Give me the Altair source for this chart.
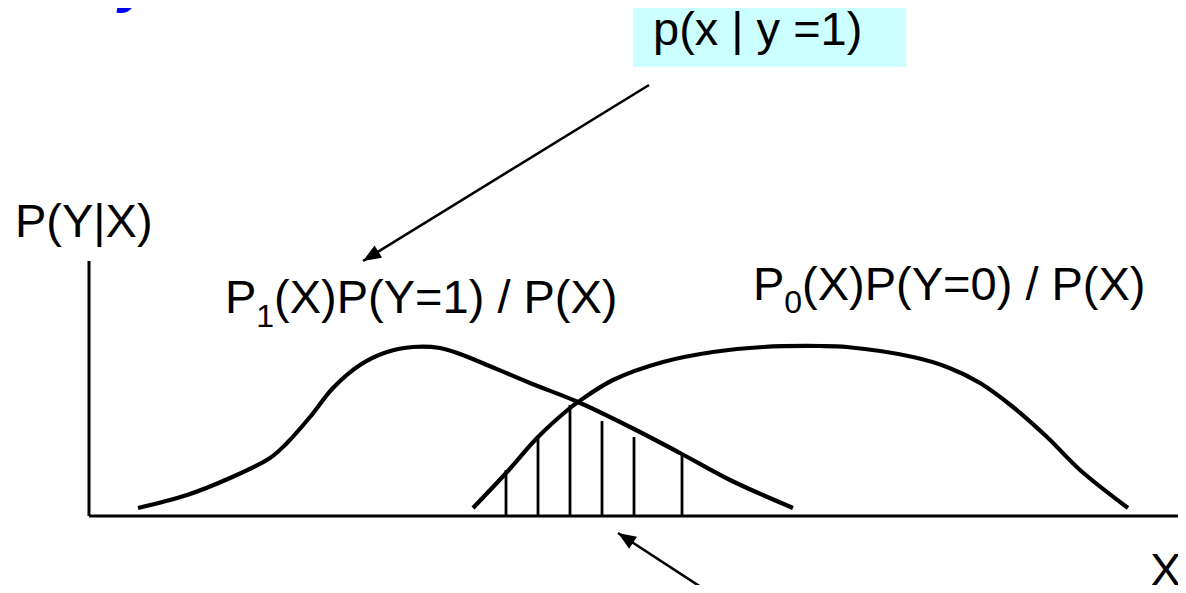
import altair as alt
import pandas as pd

# ---- data (x in page-like units, h = height above the X axis baseline) ----
c1_x = [138, 187, 230, 270, 287, 310, 333, 360, 387, 413, 440, 460, 480, 530, 578, 630, 680, 730, 793]
c1_h = [8, 21, 38, 58, 73, 99, 128, 151, 164, 169, 168, 162, 154, 133, 114, 89, 63, 36, 8]

c0_x = [473, 507, 538, 570, 578, 613, 663, 713, 763, 820, 847, 913, 947, 980, 1013, 1047, 1080, 1128]
c0_h = [8, 44, 79, 108, 114, 136, 154, 164, 169, 170, 169, 159, 149, 133, 109, 79, 46, 8]

hatch_x = [506, 538, 570, 602, 634, 682]
hatch_h = [46, 78, 111, 95, 79, 62]

axis_x0, axis_x1, axis_top = 89, 1178, 255

arrow_x1 = [649, 710]
arrow_h1 = [431, -77]
arrow_x2 = [363, 618]
arrow_h2 = [255, -17]
arrow_angle = [238.4, 303.1]

main_text = ["P(Y|X)", "p(x | y =1)", "P", "(X)P(Y=1) / P(X)", "P", "(X)P(Y=0) / P(X)", "X"]
main_x = [15, 653, 225, 274.1, 753, 802.1, 1150]
main_h = [279, 471, 203, 203, 216, 216, -70]

sub_text = ["1", "0"]
sub_x = [256.3, 784.3]
sub_h = [189, 203]

box_x = [633]
box_x2 = [906]
box_h = [520]
box_h2 = [449]

title_text = ["y"]
title_x = [119]
title_h = [516]

FONT = "Liberation Sans"
xs = alt.Scale(domain=[8, 1178], nice=False, zero=False)
ys = alt.Scale(domain=[-69, 508], nice=False, zero=False)
X = lambda f="x": alt.X(f"{f}:Q", scale=xs, axis=None)
Y = lambda f="h": alt.Y(f"{f}:Q", scale=ys, axis=None)

box = alt.Chart(pd.DataFrame({"x": box_x, "x2": box_x2, "h": box_h, "h2": box_h2})).mark_rect(
    color="#CCFFFF", clip=False
).encode(x=X(), x2="x2:Q", y=Y(), y2="h2:Q")

axes_df = pd.DataFrame({"x": [axis_x0, axis_x0], "x2": [axis_x0, axis_x1], "h": [axis_top, 0], "h2": [0, 0]})
axes = alt.Chart(axes_df).mark_rule(color="black", strokeWidth=3, clip=False).encode(
    x=X(), x2="x2:Q", y=Y(), y2="h2:Q"
)

c1 = alt.Chart(pd.DataFrame({"x": c1_x, "h": c1_h})).mark_line(
    color="black", strokeWidth=4.2, interpolate="catmull-rom", clip=False
).encode(x=X(), y=Y())
c0 = alt.Chart(pd.DataFrame({"x": c0_x, "h": c0_h})).mark_line(
    color="black", strokeWidth=4.2, interpolate="catmull-rom", clip=False
).encode(x=X(), y=Y())

hatch = alt.Chart(pd.DataFrame({"x": hatch_x, "h": hatch_h, "h2": [0] * len(hatch_x)})).mark_rule(
    color="black", strokeWidth=2.8, clip=False
).encode(x=X(), y=Y(), y2="h2:Q")

arr_df = pd.DataFrame({"x": arrow_x1, "h": arrow_h1, "x2": arrow_x2, "h2": arrow_h2, "a": arrow_angle})
arr_lines = alt.Chart(arr_df).mark_rule(color="black", strokeWidth=2.6, clip=False).encode(
    x=X(), y=Y(), x2="x2:Q", y2="h2:Q"
)
arr_heads = alt.Chart(arr_df).mark_point(
    shape="M0,0L-0.8,2L0.8,2Z", filled=True, color="black", opacity=1, size=324, clip=False
).encode(x=X("x2"), y=Y("h2"), angle=alt.Angle("a:Q", scale=None))

texts = alt.Chart(pd.DataFrame({"x": main_x, "h": main_h, "t": main_text})).mark_text(
    align="left", baseline="alphabetic", font=FONT, fontSize=47, color="black", clip=False
).encode(x=X(), y=Y(), text="t:N")
subs = alt.Chart(pd.DataFrame({"x": sub_x, "h": sub_h, "t": sub_text})).mark_text(
    align="left", baseline="alphabetic", font=FONT, fontSize=32, color="black", clip=False
).encode(x=X(), y=Y(), text="t:N")
title = alt.Chart(pd.DataFrame({"x": title_x, "h": title_h, "t": title_text})).mark_text(
    align="left", baseline="alphabetic", font=FONT, fontSize=62, fontWeight="bold",
    fontStyle="italic", color="#0000FF", clip=False
).encode(x=X(), y=Y(), text="t:N")

chart = alt.layer(box, axes, hatch, c1, c0, arr_lines, arr_heads, texts, subs, title).properties(
    width=1170, height=577, autosize=alt.AutoSizeParams(type="none"), padding=0, background="white"
).configure_view(stroke=None)

chart.save("out.html", embed_options={"renderer": "svg", "actions": False})
